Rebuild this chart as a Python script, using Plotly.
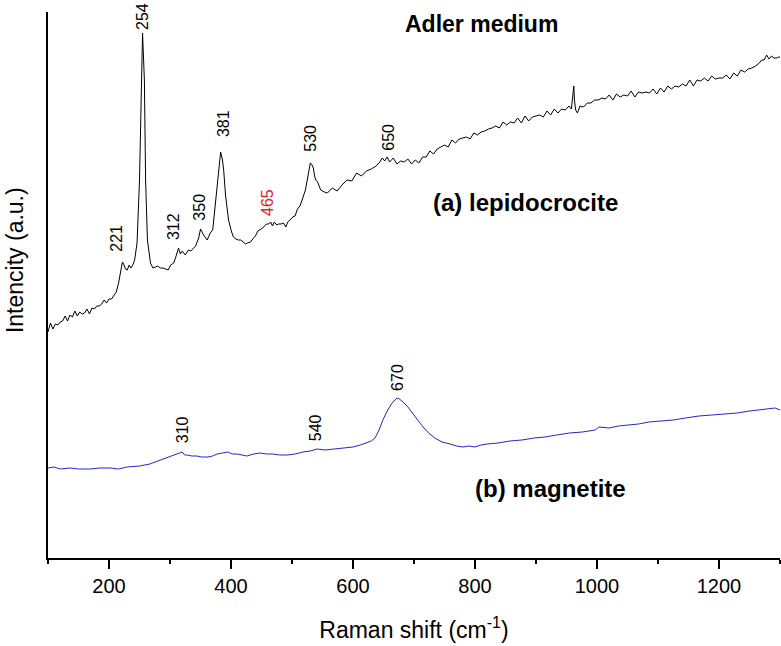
import plotly.graph_objects as go

# ---------------- data ----------------
# (a) lepidocrocite spectrum
wn_a = [100, 104, 108, 112, 116, 120, 124, 128, 132, 136, 140, 144, 148, 152, 156, 160, 164, 168, 172, 176,
        180, 184, 188, 192, 196, 200, 204, 208, 212, 216, 219, 222, 224, 227, 230, 233, 236, 239, 242, 246,
        250, 253, 255, 258, 260, 263, 268, 272, 276, 280, 284, 288, 293, 297, 301, 306, 309, 311, 314, 317,
        320, 325, 330, 334, 337, 342, 347, 350, 355, 361, 366, 370, 375, 378, 381, 383, 386, 388, 391, 396,
        401, 404, 408, 412, 416, 420, 424, 427, 432, 437, 440, 444, 447, 452, 458, 462, 465, 468, 471, 475,
        478, 482, 486, 490, 493, 497, 501, 505, 509, 513, 516, 520, 522, 525, 527, 530, 532, 535, 537, 539,
        542, 547, 553, 558, 566, 574, 582, 590, 598, 606, 614, 622, 630, 638, 644, 648, 652, 656, 660, 666,
        672, 678, 684, 690, 696, 702, 708, 714, 720, 726, 732, 738, 744, 750, 756, 762, 768, 774, 780, 786,
        792, 798, 804, 810, 816, 822, 828, 834, 840, 846, 852, 858, 864, 870, 876, 882, 888, 894, 900, 906,
        912, 918, 924, 930, 936, 942, 948, 954, 958, 960, 962, 963, 965, 968, 972, 978, 984, 990, 996, 1002,
        1008, 1014, 1020, 1026, 1032, 1038, 1044, 1050, 1056, 1062, 1068, 1074, 1080, 1086, 1092, 1098, 1104,
        1110, 1116, 1122, 1128, 1134, 1140, 1146, 1152, 1158, 1164, 1170, 1176, 1182, 1188, 1194, 1200, 1206,
        1212, 1218, 1224, 1230, 1236, 1242, 1248, 1254, 1260, 1266, 1270, 1274, 1278, 1282, 1286, 1290, 1294,
        1298, 1300]
int_a = [226, 235, 229, 234, 233, 236, 237, 242, 237, 243, 241, 247, 242, 246, 244, 245, 249, 244, 250, 249,
         252, 252, 254, 258, 255, 259, 259, 262, 266, 276, 286, 296, 294, 289, 288, 293, 290, 293, 298, 315,
         378, 478, 525, 478, 378, 318, 295, 290, 291, 292, 290, 290, 289, 288, 293, 295, 300, 304, 310, 304,
         307, 303, 308, 307, 309, 312, 320, 329, 323, 318, 325, 328, 358, 375, 398, 406, 398, 388, 363, 338,
         326, 321, 319, 318, 318, 316, 314, 315, 316, 320, 322, 327, 328, 330, 334, 334, 336, 332, 336, 333,
         334, 334, 335, 331, 336, 338, 341, 342, 349, 352, 357, 364, 368, 378, 386, 395, 394, 390, 382, 378,
         376, 368, 366, 365, 370, 367, 373, 378, 377, 385, 382, 387, 389, 392, 396, 400, 397, 401, 396, 400,
         394, 397, 396, 399, 394, 398, 395, 401, 401, 407, 404, 409, 411, 413, 411, 418, 415, 419, 420, 421,
         419, 425, 423, 426, 427, 429, 430, 432, 430, 436, 433, 436, 435, 440, 435, 442, 437, 441, 442, 443,
         441, 447, 443, 449, 445, 449, 448, 452, 449, 462, 472, 458, 448, 445, 452, 451, 455, 455, 458, 458,
         460, 459, 463, 458, 464, 461, 463, 462, 467, 461, 466, 465, 466, 465, 469, 464, 470,
         466, 472, 469, 472, 471, 474, 472, 478, 472, 478, 477, 480, 477, 482, 479, 480, 480,
         483, 479, 485, 482, 488, 486, 489, 490, 492, 495, 498, 498, 503, 499, 502, 500, 500,
         501, 501]

# (b) magnetite spectrum
wn_b = [100, 110, 120, 136, 150, 169, 185, 202, 215, 230, 250, 267, 280, 289, 298, 305, 313, 320, 324, 328,
        336, 344, 352, 362, 370, 377, 386, 395, 402, 410, 418, 426, 437, 448, 458, 469, 480, 492, 505, 518,
        530, 541, 554, 567, 583, 600, 612, 623, 630, 636, 642, 649, 656, 664, 668, 672, 676, 682, 690, 698,
        706, 715, 724, 734, 746, 759, 770, 780, 790, 800, 810, 820, 838, 857, 877, 897, 915, 934, 955, 976,
        997, 1003, 1020, 1035, 1051, 1068, 1085, 1105, 1125, 1145, 1167, 1188, 1210, 1230, 1250, 1268, 1284,
        1292, 1300]
int_b = [90, 91, 89, 90, 89, 89, 90, 90, 89, 91, 92, 94, 97, 99, 101, 102, 104, 106, 103, 103,
         102, 102, 101, 101, 102, 104, 105, 106, 104, 104, 103, 102, 104, 105, 104, 104, 103, 103, 104, 106,
         107, 109, 108, 109, 110, 111, 113, 115, 117, 120, 127, 138, 147, 155, 158, 160, 159, 156, 151, 145,
         138, 131, 125, 120, 116, 114, 112, 111, 112, 111, 113, 114, 115, 117, 118, 120, 121, 123, 125, 126,
         128, 131, 130, 132, 133, 134, 136, 137, 138, 140, 142, 143, 144, 145, 147, 148, 149,
         150, 148]

peak_labels_a = ["221", "254", "312", "350", "381", "465", "530", "650"]
peak_labels_b = ["310", "540", "670"]

x_ticks = [200, 400, 600, 800, 1000, 1200]

# ---------------- layout helpers (label anchor positions) ----------------
label_pos_a = [(211, 320), (254, 542), (305, 331), (347, 351), (387, 434), (459, 356), (529, 420), (657, 421)]
label_pos_b = [(320, 128), (538, 130), (672, 181)]

FONT = "Liberation Sans, Arial, Helvetica, sans-serif"

fig = go.Figure()
fig.add_trace(go.Scatter(x=wn_a, y=int_a, mode="lines",
                         line=dict(color="black", width=1), showlegend=False))
fig.add_trace(go.Scatter(x=wn_b, y=int_b, mode="lines",
                         line=dict(color="#2626c8", width=1), showlegend=False))

annotations = []
for txt, (x, y) in zip(peak_labels_a, label_pos_a):
    annotations.append(dict(x=x, y=y, xref="x", yref="y", text=txt, textangle=-90,
                            showarrow=False, xanchor="center", yanchor="middle",
                            font=dict(family=FONT, size=16,
                                      color="#e8201e" if txt == "465" else "black")))
for txt, (x, y) in zip(peak_labels_b, label_pos_b):
    annotations.append(dict(x=x, y=y, xref="x", yref="y", text=txt, textangle=-90,
                            showarrow=False, xanchor="center", yanchor="middle",
                            font=dict(family=FONT, size=16, color="black")))

annotations += [
    dict(x=810, y=534, xref="x", yref="y", text="<b>Adler medium</b>", showarrow=False,
         xanchor="center", yanchor="middle", font=dict(family=FONT, size=23, color="black")),
    dict(x=882, y=356, xref="x", yref="y", text="<b>(a) lepidocrocite</b>", showarrow=False,
         xanchor="center", yanchor="middle", font=dict(family=FONT, size=24, color="black")),
    dict(x=923, y=70, xref="x", yref="y", text="<b>(b) magnetite</b>", showarrow=False,
         xanchor="center", yanchor="middle", font=dict(family=FONT, size=24, color="black")),
    # y-axis title (placed off-centre as in the reference)
    dict(x=-0.045, y=298, xref="paper", yref="y", text="Intencity (a.u.)", textangle=-90,
         showarrow=False, xanchor="center", yanchor="middle",
         font=dict(family=FONT, size=23, color="black")),
]

fig.update_layout(
    width=781, height=646,
    margin=dict(l=48, r=1, t=12, b=88),
    paper_bgcolor="white", plot_bgcolor="white",
    font=dict(family=FONT, color="black"),
    annotations=annotations,
    xaxis=dict(
        range=[100, 1300], tickvals=x_ticks, ticks="outside", ticklen=9, tickwidth=1.5,
        tickcolor="black", tickfont=dict(family=FONT, size=20, color="black"),
        minor=dict(dtick=100, tick0=0, ticks="outside", ticklen=4, tickwidth=1.5, tickcolor="black"),
        showline=True, linecolor="black", linewidth=2, showgrid=False, zeroline=False,
        title=dict(text="Raman shift (cm<sup>-1</sup>)", font=dict(family=FONT, size=23, color="black"),
                   standoff=26),
        automargin=False,
    ),
    yaxis=dict(
        range=[0, 546], showticklabels=False, ticks="", showline=True, linecolor="black",
        linewidth=2, showgrid=False, zeroline=False,
        automargin=False,
    ),
)

fig.write_html("out.html", config={"displayModeBar": False},
               post_script="document.body.style.margin='0';document.body.style.padding='0';")
